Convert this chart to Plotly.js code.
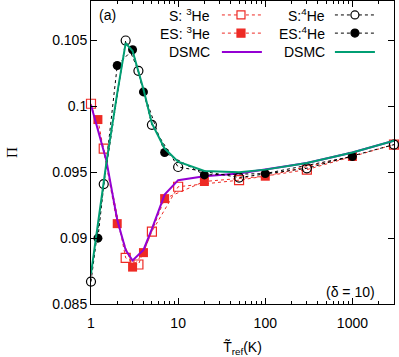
<!DOCTYPE html>
<html>
<head>
<meta charset="utf-8">
<script src="https://cdn.plot.ly/plotly-3.0.1.min.js"></script>
<style>
  html, body { margin: 0; padding: 0; background: #fff; }
  #chart { width: 399px; height: 357px; }
</style>
</head>
<body>
<div id="chart"></div>
<script>
// Stochastic (S), Ellipsoidal-statistical (ES) kinetic model and DSMC results
const xS = [1, 1.4, 2.5, 3.5, 5, 10, 50, 300, 3000];
const s3He = [0.1002, 0.0968, 0.0885, 0.0880, 0.0905, 0.0939, 0.0944, 0.0952, 0.0971];
const s4He = [0.0867, 0.0941, 0.1050, 0.1027, 0.0986, 0.0954, 0.0946, 0.0953, 0.0971];

const xES = [1.2, 2, 3, 4, 7, 20, 100, 1000];
const es3He = [0.0990, 0.0911, 0.0878, 0.0889, 0.0930, 0.0943, 0.0947, 0.0962];
const es4He = [0.0900, 0.1031, 0.1043, 0.1011, 0.0965, 0.0948, 0.0949, 0.0962];

const xDSMC = [1, 1.5, 2, 2.5, 3, 4, 5, 7, 10, 20, 50, 100, 300, 1000, 3000];
const dsmc3He = [0.1001, 0.0959, 0.0914, 0.0891, 0.0883, 0.0891, 0.0907, 0.0933, 0.0944, 0.0947, 0.0949, 0.0952, 0.0957, 0.0965, 0.0974];
const dsmc4He = [0.0873, 0.0957, 0.1010, 0.1048, 0.1042, 0.1013, 0.0987, 0.0968, 0.0958, 0.0951, 0.0950, 0.0952, 0.0957, 0.0965, 0.0974];

const xTicks = [1, 10, 100, 1000];
const yTicks = [0.085, 0.09, 0.095, 0.1, 0.105];

const RED = '#ee2a24';
const PURPLE = '#9400d3';
const GREEN = '#009e73';
const FONT = 'Liberation Sans, Arial, sans-serif';

const traces = [
  { x: xS, y: s3He, name: 'S: 3He', mode: 'lines+markers', cliponaxis: false,
    line: { color: RED, width: 1, dash: '3px,3px' },
    marker: { symbol: 'square-open', size: 9, color: RED, line: { width: 1.2 } } },
  { x: xES, y: es3He, name: 'ES: 3He', mode: 'lines+markers', cliponaxis: false,
    line: { color: RED, width: 1, dash: 'dot' },
    marker: { symbol: 'square', size: 9, color: RED } },
  { x: xDSMC, y: dsmc3He, name: 'DSMC 3He', mode: 'lines', cliponaxis: false,
    line: { color: PURPLE, width: 2 } },
  { x: xS, y: s4He, name: 'S: 4He', mode: 'lines+markers', cliponaxis: false,
    line: { color: 'black', width: 1, dash: '3px,3px' },
    marker: { symbol: 'circle-open', size: 9, color: 'black', line: { width: 1.2 } } },
  { x: xES, y: es4He, name: 'ES: 4He', mode: 'lines+markers', cliponaxis: false,
    line: { color: 'black', width: 1, dash: 'dot' },
    marker: { symbol: 'circle', size: 9, color: 'black' } },
  { x: xDSMC, y: dsmc4He, name: 'DSMC 4He', mode: 'lines', cliponaxis: false,
    line: { color: GREEN, width: 2 } }
];

// hand-made gnuplot style legend (text left, sample right)
const legRows = [0.954, 0.894, 0.832];
const col1 = { text: 0.399, x0: 0.432, x1: 0.564, m: 0.495 };
const col2 = { text: 0.779, x0: 0.805, x1: 0.937, m: 0.871 };
const legText = [
  [col1, legRows[0], 'S: <sup>3</sup>He'],
  [col1, legRows[1], 'ES: <sup>3</sup>He'],
  [col1, legRows[2], 'DSMC'],
  [col2, legRows[0], 'S:<sup>4</sup>He'],
  [col2, legRows[1], 'ES:<sup>4</sup>He'],
  [col2, legRows[2], 'DSMC']
];
const legLines = [
  [col1, legRows[0], RED, '3px,3px', 1],
  [col1, legRows[1], RED, 'dot', 1],
  [col1, legRows[2], PURPLE, 'solid', 2],
  [col2, legRows[0], 'black', '3px,3px', 1],
  [col2, legRows[1], 'black', 'dot', 1],
  [col2, legRows[2], GREEN, 'solid', 2]
];

const shapes = legLines.map(([c, y, color, dash, w]) => ({
  type: 'line', xref: 'paper', yref: 'paper', x0: c.x0, x1: c.x1, y0: y, y1: y,
  line: { color: color, dash: dash, width: w }
}));
const mk = (type, c, y, color, filled) => ({
  type: type, xref: 'paper', yref: 'paper', xsizemode: 'pixel', ysizemode: 'pixel',
  xanchor: c.m, yanchor: y, x0: -4, x1: 4, y0: -4, y1: 4,
  line: { color: color, width: 1.2 }, fillcolor: filled ? color : 'white'
});
shapes.push(mk('rect', col1, legRows[0], RED, false));
shapes.push(mk('rect', col1, legRows[1], RED, true));
shapes.push(mk('circle', col2, legRows[0], 'black', false));
shapes.push(mk('circle', col2, legRows[1], 'black', true));

const annotations = legText.map(([c, y, t]) => ({
  xref: 'paper', yref: 'paper', x: c.text, y: y, text: t, showarrow: false,
  xanchor: 'right', yanchor: 'middle', font: { family: FONT, size: 14, color: 'black' }
}));
annotations.push({ xref: 'paper', yref: 'paper', x: 0.056, y: 0.954, text: '(a)', showarrow: false,
  xanchor: 'center', yanchor: 'middle', font: { family: FONT, size: 14, color: 'black' } });
annotations.push({ xref: 'paper', yref: 'paper', x: 0.858, y: 0.04, text: '(\u03b4 = 10)', showarrow: false,
  xanchor: 'center', yanchor: 'middle', font: { family: FONT, size: 14, color: 'black' } });

const layout = {
  width: 399, height: 357,
  margin: { l: 91, r: 5, t: 1, b: 53 },
  paper_bgcolor: 'white', plot_bgcolor: 'white',
  showlegend: false,
  font: { family: FONT, size: 14, color: 'black' },
  xaxis: {
    type: 'log', range: [0, Math.log10(3000)],
    tickvals: xTicks, ticktext: xTicks.map(String),
    ticks: 'inside', ticklen: 6, tickcolor: 'black',
    minor: { ticks: 'inside', ticklen: 3, tickcolor: 'black', dtick: 'D1', showgrid: false },
    showline: true, linecolor: 'black', linewidth: 1, mirror: 'allticks',
    showgrid: false, zeroline: false,
    ticklabelstandoff: 6,
    tickfont: { family: FONT, size: 14 },
    title: { text: 'T\u0303<sub>ref</sub>(K)', font: { family: FONT, size: 14 }, standoff: 12 }
  },
  yaxis: {
    range: [0.085, 0.108],
    tickvals: yTicks,
    ticks: 'inside', ticklen: 6, tickcolor: 'black',
    showline: true, linecolor: 'black', linewidth: 1, mirror: 'allticks',
    showgrid: false, zeroline: false,
    tickfont: { family: FONT, size: 14 },
    title: { text: '\u03a0', font: { family: 'Liberation Serif, serif', size: 15 }, standoff: 30 }
  },
  shapes: shapes,
  annotations: annotations
};

Plotly.newPlot('chart', traces, layout, { displayModeBar: false, staticPlot: true });
</script>
</body>
</html>
